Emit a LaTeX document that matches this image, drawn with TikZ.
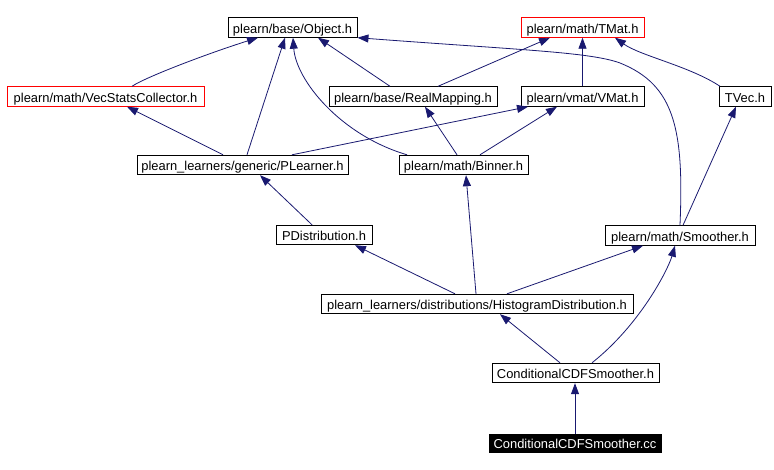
\documentclass[tikz,border=0pt]{standalone}
\usepackage{fontspec}
\setmainfont{Liberation Sans}
\usetikzlibrary{arrows.meta}
\definecolor{edgec}{HTML}{191970}
\begin{document}
\begin{tikzpicture}[x=1pt,y=-1pt,
 box/.style={draw=black, line width=0.9pt, minimum height=19.5pt, inner sep=0pt,
   font=\fontsize{12.9}{15}\selectfont, text height=12pt, text depth=0.4pt, anchor=center},
 redbox/.style={box, draw=red},
 edge/.style={draw=edgec, line width=0.8pt, -{Triangle[length=11pt,width=8pt]}},
]
\useasboundingbox (0,0) rectangle (774,470);
\fill[white] (0,0) rectangle (774,470);

\node[box, minimum width=129pt] (obj) at (292.5,27.5) {plearn/base/Object.h};
\node[redbox, minimum width=123pt] (tmat) at (582.5,27.5) {plearn/math/TMat.h};
\node[redbox, minimum width=197pt] (vsc) at (105.5,96.5) {plearn/math/VecStatsCollector.h};
\node[box, minimum width=168pt] (rmap) at (413,96.5) {plearn/base/RealMapping.h};
\node[box, minimum width=123pt] (vmat) at (582.5,96.5) {plearn/vmat/VMat.h};
\node[box, minimum width=52pt] (tvec) at (745,96.5) {TVec.h};
\node[box, minimum width=211pt] (plr) at (242.5,165) {plearn\_learners/generic/PLearner.h};
\node[box, minimum width=129pt] (bin) at (463.5,165) {plearn/math/Binner.h};
\node[box, minimum width=96pt] (pd) at (324,235) {PDistribution.h};
\node[box, minimum width=150pt] (smo) at (680,235.5) {plearn/math/Smoother.h};
\node[box, minimum width=312pt] (hist) at (477,304) {plearn\_learners/distributions/HistogramDistribution.h};
\node[box, minimum width=167pt] (ccdfh) at (575.5,373) {ConditionalCDFSmoother.h};
\node[box, minimum width=172pt, minimum height=18pt, fill=black, text=white] (cc) at (575,443) {ConditionalCDFSmoother.cc};

\draw[edge] ([xshift=26.5pt]vsc.north) .. controls +(15,-10) and +(-45,14) .. ([xshift=-34.5pt]obj.south);
\draw[edge] ([xshift=4.5pt]plr.north) -- ([xshift=-7.5pt]obj.south);
\draw[edge] ([xshift=-56.5pt]bin.north) .. controls (340,135) and (296,80) .. ([xshift=0.5pt]obj.south);
\draw[edge] ([xshift=-23pt]rmap.north) -- ([xshift=25.5pt]obj.south);
\draw[edge] (smo.north) .. controls (684,130) and (675,85) .. (620,63) .. controls (590,52) and (520,50) .. (obj.south east);
\draw[edge] ([xshift=25pt]rmap.north) -- ([xshift=-32.5pt]tmat.south);
\draw[edge] (vmat.north) -- (tmat.south);
\draw[edge] ([xshift=-25pt]tvec.north) .. controls +(-30,-20) and +(25,18) .. ([xshift=32.5pt]tmat.south);
\draw[edge] ([xshift=-19.5pt]plr.north) -- ([xshift=21.5pt]vsc.south);
\draw[edge] ([xshift=49.5pt]plr.north) -- ([xshift=-54.5pt]vmat.south);
\draw[edge] ([xshift=-6.5pt]bin.north) -- ([xshift=12pt]rmap.south);
\draw[edge] ([xshift=16.5pt]bin.north) -- ([xshift=-25.5pt]vmat.south);
\draw[edge] ([xshift=3pt]smo.north) -- ([xshift=-9pt]tvec.south);
\draw[edge] ([xshift=-12pt]pd.north) -- ([xshift=17.5pt]plr.south);
\draw[edge] ([xshift=-22pt]hist.north) -- ([xshift=31pt]pd.south);
\draw[edge] ([xshift=-1pt]hist.north) -- ([xshift=2.5pt]bin.south);
\draw[edge] ([xshift=30pt]hist.north) -- ([xshift=-37pt]smo.south);
\draw[edge] ([xshift=-15.5pt]ccdfh.north) -- ([xshift=23pt]hist.south);
\draw[edge] ([xshift=16.5pt]ccdfh.north) .. controls +(48,-38) and +(-7,24) .. ([xshift=-5pt]smo.south);
\draw[edge] (cc.north) -- (cc.north |- ccdfh.south);
\end{tikzpicture}
\end{document}
